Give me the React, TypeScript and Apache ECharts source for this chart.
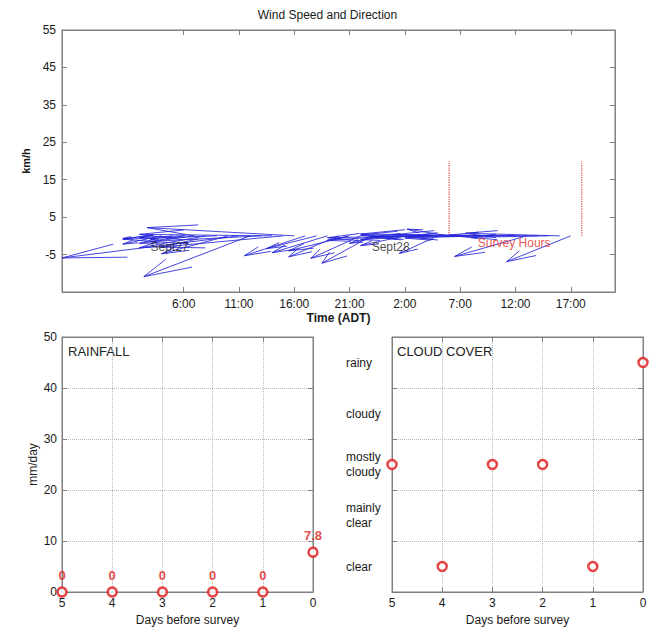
import React, { useEffect, useRef } from 'react';
import * as echarts from 'echarts';

// ---- Wind quiver data (tail time in hours since Sept 27 00:00, arrow components in plot units)
const arrowTimes = [3, 4, 5, 6, 7, 8, 9, 10, 11, 12, 13, 14, 15, 16, 17, 18, 19, 20, 21, 22, 23, 24, 25, 26, 27, 28, 29, 30, 31, 32, 33, 34, 35, 36, 37, 38, 39, 40, 41];
const arrowU = [-2.5, -3.5, -2.0, -4.0, -5.0, -6.0, -8.5, -6.0, -16.0, -9.6, -10.0, -12.0, -11.0, -13.3, -5.5, -4.5, -5.0, -4.5, -5.5, -4.5, -4.5, -3.0, -6.0, -4.0, -5.0, -9.0, -3.5, -3.8, -8.0, -10.0, -7.0, -12.0, -9.0, -11.0, -6.5, -8.0, -7.0, -8.5, -5.8];
const arrowV = [-0.7, -2.2, -1.0, -0.4, -2.0, -3.2, -0.9, -4.8, -5.9, -10.9, -1.5, 0.4, -3.0, 2.2, -5.3, -3.4, -4.5, -5.6, -4.0, -6.0, -7.3, -2.0, -1.2, -2.6, -1.0, -0.5, -4.7, 1.8, -0.3, 0.2, -0.6, 0.5, -0.2, 0.3, -5.5, 0.2, -0.4, 0.7, -6.9];

const xTicks = [6, 11, 16, 21, 26, 31, 36, 41];
const xTickLabels = ['6:00', '11:00', '16:00', '21:00', '2:00', '7:00', '12:00', '17:00'];
const yTicks = [-5, 5, 15, 25, 35, 45, 55];

const surveyLineX = [30, 42];
const surveyLineY = [0, 20];

const annotationNames = ['Sept27', 'Sept28', 'Survey Hours'];
const annotationX = [3, 23, 32.6];
const annotationY = [-3, -3, -1.9];
const annotationColors = ['#1a1a1a', '#1a1a1a', '#e02828'];

// ---- Rainfall / cloud cover
const days = [5, 4, 3, 2, 1, 0];
const rainfall = [0, 0, 0, 0, 0, 7.8];
const cloudLevels = ['clear', 'mainly\nclear', 'mostly\ncloudy', 'cloudy', 'rainy'];
const cloudCover = ['mostly\ncloudy', 'clear', 'mostly\ncloudy', 'mostly\ncloudy', 'clear', 'rainy'];

const FONT = 'Liberation Sans, Arial, Helvetica, sans-serif';
const AXIS_GRAY = '#808080';
const TEXT = '#1a1a1a';
const RED = '#e01818';
const BLUE = '#2626d8';

export default function App() {
  const ref = useRef<HTMLDivElement>(null);
  useEffect(() => {
    if (!ref.current) return;
    const chart = echarts.init(ref.current, undefined, { renderer: 'svg' });

    const tickStyle = { show: true, inside: true, length: 5, lineStyle: { color: AXIS_GRAY } };
    const lineStyle = { show: true, onZero: false, lineStyle: { color: AXIS_GRAY, width: 1 } };
    const labelStyle = { color: TEXT, fontSize: 12, fontFamily: FONT };
    const gridDotted = { show: true, lineStyle: { type: 'dotted', color: '#b8b8b8', width: 1 } };

    const topX = {
      type: 'value', min: -5, max: 45,
      axisLine: lineStyle,
      axisTick: { ...tickStyle, customValues: xTicks },
      splitLine: { show: false },
    };
    const topY = {
      type: 'value', min: -15, max: 55,
      axisLine: lineStyle,
      axisTick: { ...tickStyle, customValues: yTicks },
      splitLine: { show: false },
    };
    const dayX = {
      type: 'value', min: 0, max: 5, interval: 1, inverse: true,
      axisLine: lineStyle,
      axisTick: tickStyle,
      splitLine: gridDotted,
    };

    const option: any = {
      animation: false,
      textStyle: { fontFamily: FONT },
      grid: [
        { left: 62, top: 30, width: 553, height: 262, show: true, borderColor: AXIS_GRAY, borderWidth: 1, containLabel: false },
        { left: 62, top: 337, width: 251, height: 255, show: true, borderColor: AXIS_GRAY, borderWidth: 1, containLabel: false },
        { left: 392, top: 337, width: 251, height: 255, show: true, borderColor: AXIS_GRAY, borderWidth: 1, containLabel: false },
      ],
      xAxis: [
        {
          ...topX, gridIndex: 0, position: 'bottom',
          axisLabel: {
            ...labelStyle, margin: 6, customValues: xTicks,
            formatter: (v: number) => { const i = xTicks.indexOf(v); return i >= 0 ? xTickLabels[i] : ''; },
          },
          name: 'Time (ADT)', nameLocation: 'middle', nameGap: 20,
          nameTextStyle: { color: TEXT, fontSize: 12, fontWeight: 'bold', fontFamily: FONT },
        },
        { ...topX, gridIndex: 0, position: 'top', axisLabel: { show: false } },
        {
          ...dayX, gridIndex: 1, position: 'bottom',
          axisLabel: { ...labelStyle, margin: 5 },
          name: 'Days before survey', nameLocation: 'middle', nameGap: 22,
          nameTextStyle: { color: TEXT, fontSize: 12, fontFamily: FONT },
        },
        { ...dayX, gridIndex: 1, position: 'top', axisLabel: { show: false }, splitLine: { show: false } },
        {
          ...dayX, gridIndex: 2, position: 'bottom',
          axisLabel: { ...labelStyle, margin: 5 },
          name: 'Days before survey', nameLocation: 'middle', nameGap: 22,
          nameTextStyle: { color: TEXT, fontSize: 12, fontFamily: FONT },
        },
        { ...dayX, gridIndex: 2, position: 'top', axisLabel: { show: false }, splitLine: { show: false } },
      ],
      yAxis: [
        {
          ...topY, gridIndex: 0, position: 'left',
          axisLabel: { ...labelStyle, margin: 6, customValues: yTicks },
          name: 'km/h', nameLocation: 'middle', nameGap: 22,
          nameTextStyle: { color: TEXT, fontSize: 11, fontWeight: 'bold', fontFamily: FONT },
        },
        { ...topY, gridIndex: 0, position: 'right', axisLabel: { show: false } },
        {
          type: 'value', gridIndex: 1, position: 'left', min: 0, max: 50, interval: 10,
          axisLine: lineStyle, axisTick: tickStyle, splitLine: gridDotted,
          axisLabel: { ...labelStyle, margin: 5 },
          name: 'mm/day', nameLocation: 'middle', nameGap: 23,
          nameTextStyle: { color: TEXT, fontSize: 12, fontFamily: FONT },
        },
        {
          type: 'value', gridIndex: 1, position: 'right', min: 0, max: 50, interval: 10,
          axisLine: lineStyle, axisTick: tickStyle, splitLine: { show: false }, axisLabel: { show: false },
        },
        {
          type: 'category', gridIndex: 2, position: 'left', data: cloudLevels, boundaryGap: true,
          axisLine: lineStyle,
          axisTick: { ...tickStyle, alignWithLabel: false, interval: 0 },
          splitLine: { ...gridDotted, interval: 0 },
          axisLabel: { ...labelStyle, align: 'left', margin: 46, lineHeight: 15, interval: 0 },
        },
        {
          type: 'category', gridIndex: 2, position: 'right', data: cloudLevels, boundaryGap: true,
          axisLine: lineStyle,
          axisTick: { ...tickStyle, alignWithLabel: false, interval: 0 },
          splitLine: { show: false }, axisLabel: { show: false },
        },
      ],
      graphic: [
        { type: 'text', left: 'center', top: 9, style: { text: 'Wind Speed and Direction', fill: TEXT, font: `12px ${FONT}` } },
        { type: 'text', left: 68, top: 345, style: { text: 'RAINFALL', fill: '#222', font: `13px ${FONT}` } },
        { type: 'text', left: 397, top: 345, style: { text: 'CLOUD COVER', fill: '#222', font: `13px ${FONT}` } },
      ],
      series: [
        {
          type: 'custom', xAxisIndex: 0, yAxisIndex: 0, clip: true,
          encode: { x: 0, y: 2 },
          data: arrowTimes.map((t, i) => [t, arrowU[i], arrowV[i]]),
          renderItem: (params: any, api: any) => {
            const t = api.value(0), u = api.value(1), v = api.value(2);
            const a = 0.33, b = 0.33;
            const hx = t + u, hy = v;
            const tail = api.coord([t, 0]);
            const head = api.coord([hx, hy]);
            const w1 = api.coord([hx - a * (u + b * v), hy - a * (v - b * u)]);
            const w2 = api.coord([hx - a * (u - b * v), hy - a * (v + b * u)]);
            const st = { stroke: BLUE, lineWidth: 1, fill: 'none', opacity: 0.85 };
            return {
              type: 'group',
              children: [
                { type: 'polyline', shape: { points: [tail, head] }, style: st },
                { type: 'polyline', shape: { points: [w1, head, w2] }, style: st },
              ],
            };
          },
          z: 3,
        },
        ...surveyLineX.map((x) => ({
          type: 'line', xAxisIndex: 0, yAxisIndex: 0, symbol: 'none',
          data: surveyLineY.map((y) => [x, y]),
          lineStyle: { type: 'dotted', color: '#e03c3c', width: 1.2 },
          z: 2,
        })),
        {
          type: 'scatter', xAxisIndex: 0, yAxisIndex: 0, symbolSize: 0,
          data: annotationNames.map((n, i) => ({
            name: n, value: [annotationX[i], annotationY[i]],
            label: { color: annotationColors[i] },
          })),
          label: { show: true, position: 'right', distance: 0, formatter: '{b}', fontSize: 12, fontFamily: FONT },
          z: 4,
        },
        {
          type: 'scatter', xAxisIndex: 2, yAxisIndex: 2, clip: false,
          symbol: 'circle', symbolSize: 9,
          itemStyle: { color: '#fff', borderColor: RED, borderWidth: 2.5 },
          data: days.map((d, i) => [d, rainfall[i]]),
          label: {
            show: true, position: 'top', distance: 4, color: RED, fontWeight: 'bold', fontSize: 13, fontFamily: FONT,
            formatter: (p: any) => String(p.value[1]),
          },
          z: 5,
        },
        {
          type: 'scatter', xAxisIndex: 4, yAxisIndex: 4, clip: false,
          symbol: 'circle', symbolSize: 9,
          itemStyle: { color: '#fff', borderColor: RED, borderWidth: 2.5 },
          data: days.map((d, i) => [d, cloudCover[i]]),
          z: 5,
        },
      ],
    };
    chart.setOption(option);
    return () => chart.dispose();
  }, []);
  return <div ref={ref} style={{ position: 'fixed', left: 0, top: 0, width: 655, height: 637, background: '#fff' }} />;
}
